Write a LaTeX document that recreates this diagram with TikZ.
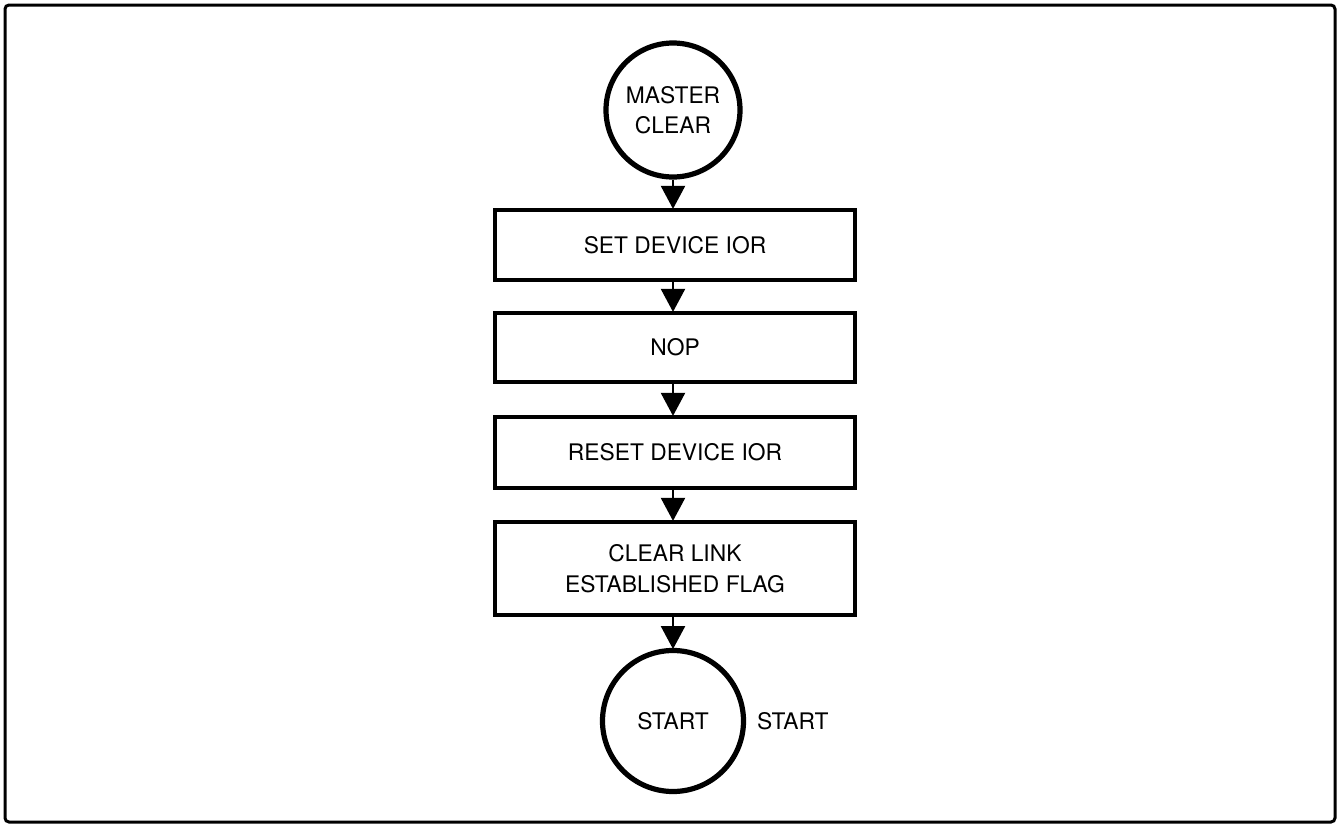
\documentclass[tikz,border=0pt]{standalone}
\usepackage{fontspec}
\setmainfont{TeX Gyre Heros}
\usetikzlibrary{arrows.meta}
\begin{document}
\begin{tikzpicture}[x=0.5pt,y=-0.5pt,
  every node/.style={font=\fontsize{11.4}{15.3}\selectfont, align=center},
  terminal/.style={draw, circle, line width=2.6pt, inner sep=0pt},
  stepbox/.style={draw, rectangle, line width=2.3pt, minimum width=180pt, inner sep=0pt},
  flow/.style={line width=1.1pt, -{Triangle[width=12pt,length=11.5pt]}, shorten >=-0.6pt}
]
% page frame
\useasboundingbox (0,0) rectangle (1341,825);
\draw[line width=1.5pt, rounded corners=2pt] (5,5) rectangle (1335,822);

% flow chart
\node[terminal, minimum size=67pt] (mc) at (673,110) {MASTER\\CLEAR};
\node[stepbox, minimum height=35pt] (set) at (675,245) {SET DEVICE IOR};
\node[stepbox, minimum height=34.5pt] (nop) at (675,347.5) {NOP};
\node[stepbox, minimum height=35.5pt] (reset) at (675,452.5) {RESET DEVICE IOR};
\node[stepbox, minimum height=46.5pt] (clr) at (675,568.5) {CLEAR LINK\\ESTABLISHED FLAG};
\node[terminal, minimum size=70.5pt] (st) at (673,721) {START};
\node[anchor=west] (stlab) at (st.east) [xshift=2pt] {START};

\draw[flow] (mc.south) -- (mc.south |- set.north);
\draw[flow] (set.south -| mc.south) -- (mc.south |- nop.north);
\draw[flow] (nop.south -| mc.south) -- (mc.south |- reset.north);
\draw[flow] (reset.south -| mc.south) -- (mc.south |- clr.north);
\draw[flow] (clr.south -| st.north) -- (st.north);
\end{tikzpicture}
\end{document}
